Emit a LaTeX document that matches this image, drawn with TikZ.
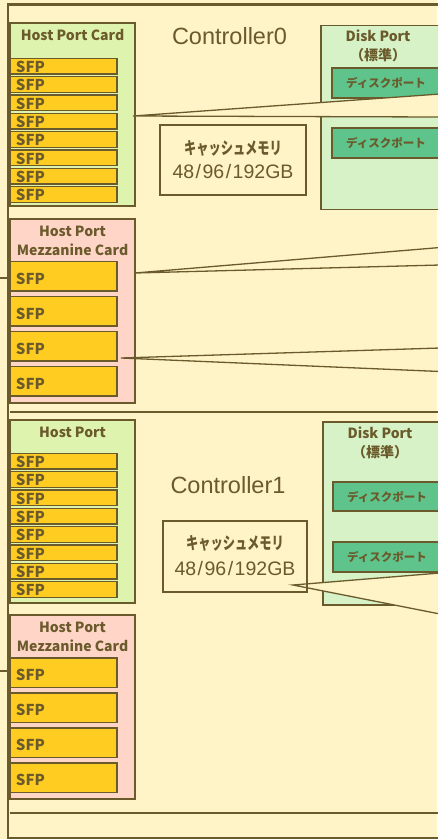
\documentclass[tikz,border=0pt]{standalone}
\usepackage{fontspec}
\setmainfont{Liberation Sans}
\newfontfamily\jpfont{Noto Sans CJK JP}
\newfontfamily\jpnarrow[FakeStretch=0.72]{Noto Sans CJK JP}
\usetikzlibrary{positioning}

\definecolor{paper}{HTML}{FFF4C8}
\definecolor{ink}{HTML}{6B5A2B}
\definecolor{hpgreen}{HTML}{DDF3AE}
\definecolor{dpgreen}{HTML}{D6F2C6}
\definecolor{mzpink}{HTML}{FFD5C8}
\definecolor{sfpgold}{HTML}{FFCC22}
\definecolor{portgreen}{HTML}{5EC48C}

\begin{document}
\begin{tikzpicture}[
    x=1pt, y=-1pt,
    every node/.style={text=ink, inner sep=0pt, outer sep=0pt},
    chassis/.style={draw=ink, line width=2.7pt, anchor=north west},
    card/.style={draw=ink, line width=1.2pt, anchor=north west, minimum width=125pt},
    hostcard/.style={card, fill=hpgreen},
    mezzcard/.style={card, fill=mzpink},
    sfpthin/.style={draw=ink, line width=1.3pt, fill=sfpgold, anchor=north west,
        text width=95pt, inner xsep=6pt, align=left, minimum height=15.7pt,
        text height=13.5pt, text depth=0.5pt, font=\jpfont\bfseries\fontsize{15}{15}\selectfont},
    sfpwide/.style={sfpthin, minimum height=29.3pt, text height=16pt, text depth=0pt},
    cardtitle/.style={font=\jpfont\bfseries\fontsize{14}{19.5}\selectfont, align=center},
    diskbox/.style={draw=ink, line width=1.2pt, fill=dpgreen, anchor=north west,
        minimum width=130pt, minimum height=184pt},
    diskport/.style={draw=ink, line width=1.2pt, fill=portgreen, anchor=north west,
        minimum width=108pt, minimum height=30pt, font=\jpfont\bfseries\fontsize{11.5}{12}\selectfont},
    cachebox/.style={draw=ink, line width=1.8pt, anchor=north west},
    cachejp/.style={font=\jpnarrow\bfseries\fontsize{17}{18}\selectfont},
    cachegb/.style={font=\fontsize{19.5}{20}\selectfont},
    ctrlname/.style={font=\fontsize{23.5}{26}\selectfont},
    wire/.style={draw=ink, line width=1.3pt},
    divider/.style={draw=ink, line width=1.2pt}
]
    \useasboundingbox (0,0) rectangle (437,839);
    \fill[paper] (0,0) rectangle (437,839);

    \node[chassis, minimum width=470pt, minimum height=833.3pt] (frame) at (8,4.7) {};
    \draw[divider] (10,412) -- (440,412);
    \draw[divider] (10,813) -- (440,813);

    % Controller0
    \node[ctrlname] (ctrl0) at (229.5,36) {Controller0};
    \node[hostcard, minimum height=183pt] (hpc0) at (10,23) {};
    \node[cardtitle] (hpc0t) at (72.5,35) {Host Port Card};
    \node[sfpthin] (sfpA0) at (10,58.3) {SFP};
    \foreach \i [remember=\i as \prev (initially 0)] in {1,...,7}
        \node[sfpthin, below=2.63pt of sfpA\prev] (sfpA\i) {SFP};
    \node[mezzcard, minimum height=184pt] (mzc0) at (10,219) {};
    \node[cardtitle] (mzc0t) at (72.5,241) {Host Port\\Mezzanine Card};
    \node[sfpwide] (sfpB0) at (10,261.7) {SFP};
    \foreach \i [remember=\i as \prev (initially 0)] in {1,...,3}
        \node[sfpwide, below=5.7pt of sfpB\prev] (sfpB\i) {SFP};
    \node[diskbox] (dpc0) at (321,25.5) {};
    \node[cardtitle] (dpc0t) at (378,46) {Disk Port\\（標準）};
    \node[diskport] (dp0a) at (332,68) {ディスクポート};
    \node[diskport] (dp0b) at (332,128) {ディスクポート};

    % Controller1
    \node[ctrlname] (ctrl1) at (228,485) {Controller1};
    \node[hostcard, minimum height=183pt] (hpc1) at (10,420) {};
    \node[cardtitle] (hpc1t) at (72.5,432) {Host Port};
    \node[sfpthin] (sfpC0) at (10,453.3) {SFP};
    \foreach \i [remember=\i as \prev (initially 0)] in {1,...,7}
        \node[sfpthin, below=2.63pt of sfpC\prev] (sfpC\i) {SFP};
    \node[mezzcard, minimum height=184pt] (mzc1) at (10,615) {};
    \node[cardtitle] (mzc1t) at (72.5,637) {Host Port\\Mezzanine Card};
    \node[sfpwide] (sfpD0) at (10,658) {SFP};
    \foreach \i [remember=\i as \prev (initially 0)] in {1,...,3}
        \node[sfpwide, below=5.7pt of sfpD\prev] (sfpD\i) {SFP};
    \node[diskbox, minimum height=183pt] (dpc1) at (323,422) {};
    \node[cardtitle] (dpc1t) at (380,443) {Disk Port\\（標準）};
    \node[diskport, minimum height=29pt] (dp1a) at (333,482) {ディスクポート};
    \node[diskport] (dp1b) at (333,542) {ディスクポート};

    % callouts to the right
    \coordinate (zoomA) at (133,116);
    \coordinate (zoomAtop) at (440,94);
    \coordinate (zoomAbot) at (440,117);
    \coordinate (zoomB) at (135,273);
    \coordinate (zoomBtop) at (440,247.5);
    \coordinate (zoomBbot) at (440,265);
    \coordinate (zoomC) at (121,358);
    \coordinate (zoomCtop) at (440,348);
    \coordinate (zoomCbot) at (440,371.5);
    \coordinate (zoomD) at (293,585);
    \coordinate (zoomDtop) at (440,573);
    \coordinate (zoomDbot) at (440,614);
    \foreach \z in {A,B,C,D} {
        \fill[paper] (zoom\z) -- (zoom\z top) -- (zoom\z bot) -- cycle;
        \draw[wire] (zoom\z top) -- (zoom\z) -- (zoom\z bot);
    }

    % cache memory
    \node[cachebox, minimum width=146pt, minimum height=70pt] (cache0) at (160,125) {};
    \node[cachejp] (cache0jp) at (233,148.5) {キャッシュメモリ};
    \node[cachegb] (cache0gb) at (233,172) {48\kern1.5pt/\kern1.5pt96\kern1.5pt/\kern1.5pt192GB};
    \node[cachebox, minimum width=144pt, minimum height=71pt] (cache1) at (163,521) {};
    \node[cachejp] (cache1jp) at (235,543.5) {キャッシュメモリ};
    \node[cachegb] (cache1gb) at (235,569) {48\kern1.5pt/\kern1.5pt96\kern1.5pt/\kern1.5pt192GB};

    % links coming in from the left
    \coordinate (stub0) at (0,278);
    \coordinate (stub1) at (0,671);
    \draw[wire] (stub0) -- (stub0 -| frame.west);
    \draw[wire] (stub1) -- (stub1 -| frame.west);
\end{tikzpicture}
\end{document}
